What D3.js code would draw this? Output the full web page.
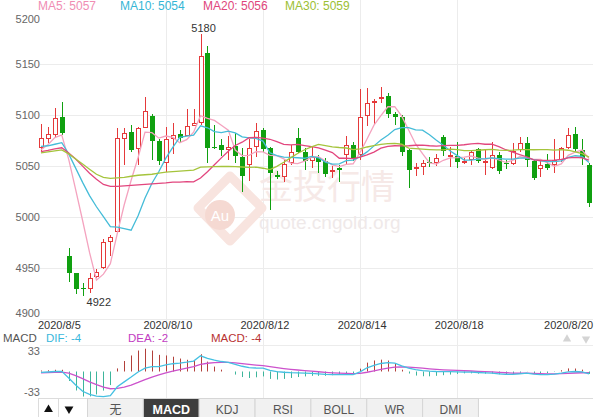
<!DOCTYPE html>
<html><head><meta charset="utf-8">
<script src="https://cdn.jsdelivr.net/npm/d3@7"></script>
<style>
html,body{margin:0;padding:0;background:#fff;}
svg{display:block;font-family:"Liberation Sans",Arial,sans-serif;}
</style></head><body>
<svg id="c" width="598" height="417"></svg>
<script>
// ---------------- data ----------------
const opens = [5067.5,5076.5,5080.6,5098,4961.6,4944.6,4930.5,4928.8,4940.6,4949.5,
4975,4985,5076.3,5083.8,5066.5,5087.2,5099.6,5074.7,5052.8,5076.3,
5081.4,5080,5089.8,5092,5161,5068.5,5070.5,5066,5069.5,5059,
5051,5069,5085.8,5067.5,5041.3,5039.6,5052.8,5078,5063.5,5055,
5058.3,5055,5044,5048.5,5061,5070.8,5060.5,5098.8,5112.5,5116.5,
5118.7,5100.8,5098.6,5065.6,5047,5049.4,5054.5,5052.8,5079,5059,
5059.5,5054.7,5056,5066.8,5054,5048.6,5061,5053,5052,5066,
5073,5055,5047,5052,5051,5056,5068,5081.4,5066,5051];
const highs = [5091,5088.5,5107,5113.4,4969.2,4945,4935.5,4945.2,4948.5,4978,
4982.2,5087,5087,5090,5088,5118.4,5101,5077,5088.6,5092.5,
5085.5,5106,5106,5180,5168,5090,5077,5080,5083,5067.5,
5077,5092.7,5087,5069,5045,5056,5070.8,5087,5067.5,5069,
5061,5057.7,5050.5,5051,5080,5074,5125.5,5126.5,5116,5127.5,
5122,5103,5100,5067,5052.8,5056,5059.3,5061.6,5081,5069,
5074,5058,5066,5068,5066,5073.5,5063.6,5056,5072.4,5079,
5079,5056,5055,5061.6,5077,5069,5087.6,5088,5077,5053];
const lows = [5065,5073,5079,5080.6,4936.3,4924.2,4922,4925.6,4939.7,4949,
4961.6,4984,5051,5064,5051,5087,5056,5051,5044.5,5061.6,
5073.5,5080,5089,5090,5053,5066.5,5060,5056,5053,5025,
5035.3,5059,5064,5007,5037,5034.6,5051,5062.5,5046,5048,
5043,5039,5038,5034.6,5051,5055,5056,5089.5,5090,5112,
5097,5090,5060,5028,5040,5041,5049.4,5050.4,5060,5049,
5048.5,5052,5050.6,5052.8,5041,5047,5042,5047,5051,5064,
5048.7,5036.7,5039,5046,5043,5054.5,5067,5063.6,5051,5010];
const closes = [5077.3,5081.4,5097,5082.3,4945.2,4928.8,4929,4940.3,4945.5,4975,
4980,5077.3,5082.3,5065.8,5087,5104.5,5074.7,5055.3,5076.3,5080.6,
5078.1,5089.5,5092,5158,5067.5,5067.5,5065.6,5068.5,5060,5040.3,
5068,5084.5,5066.5,5043,5039.6,5051.8,5064,5064,5055,5059.3,
5054.3,5042,5046,5046,5070.8,5056.7,5098,5111.8,5114,5117.5,
5100.8,5098.6,5064.3,5046,5049.4,5052.8,5052.8,5058.3,5065,5061,
5054.5,5055.3,5063.5,5055,5055,5061,5045.5,5052,5065,5072.4,
5056,5038,5051,5048,5056,5067.5,5080.6,5067,5058,5014];

const ma5 = [5066,5071,5078,5080.6,5056.6,5026.9,4996.5,4965.1,4937.8,4943.7,
4954,4983.6,5012,5036.1,5058.5,5083.4,5082.9,5077.5,5079.6,5078.3,
5073,5076,5083.3,5099.6,5097,5094.9,5090.1,5085.4,5065.8,5060.4,
5060.5,5064.3,5063.9,5060.5,5060.3,5057.1,5053,5052.5,5054.9,5058.8,
5059.3,5054.9,5051.3,5049.5,5051.8,5052.3,5063.5,5076.7,5090.3,5099.6,
5108.4,5108.5,5099.1,5085.5,5071.8,5062.2,5053.1,5051.9,5055.7,5058,
5058.3,5058.8,5059.9,5057.9,5056.7,5058,5056,5053.7,5055.7,5059.2,
5058.2,5056.7,5056.5,5053.1,5049.8,5052.1,5060.6,5063.8,5065.8,5057.4];
const ma10 = [5069.4,5070,5071.5,5073,5062,5048,5034,5021,5010,5000.2,
4990.5,4990,4988.6,4986.9,5001.1,5018.7,5033.2,5044.7,5057.8,5068.4,
5078.2,5079.4,5080.4,5089.6,5087.7,5084,5083,5084.4,5082.7,5078.7,
5077.7,5077.2,5074.6,5063.1,5060.4,5058.8,5058.6,5058.2,5057.7,5059.6,
5058.2,5054,5051.9,5052.2,5055.3,5055.8,5059.2,5064,5069.9,5075.7,
5080.4,5086,5087.9,5087.9,5085.7,5085.3,5080.8,5075.5,5070.6,5064.9,
5060.3,5055.9,5055.9,5056.8,5057.3,5058.1,5057.4,5056.8,5056.8,5057.9,
5058.1,5056.3,5055.1,5054.4,5054.5,5055.1,5058.7,5060.2,5059.5,5053.6];
const ma20 = [5064.2,5065.5,5067,5068,5063,5057,5050,5043,5037,5032,
5030,5030,5030.5,5031,5031.5,5032,5032.5,5033,5033.5,5034.3,
5034.3,5034.7,5034.5,5038.3,5044.4,5051.3,5058.1,5064.6,5070.3,5073.5,
5077.9,5078.3,5077.5,5076.4,5074,5071.4,5070.8,5071.3,5070.2,5069.1,
5067.9,5065.6,5063.3,5057.7,5057.8,5057.3,5058.9,5061.1,5063.8,5067.6,
5069.3,5070,5069.9,5070,5070.5,5070.6,5070,5069.7,5070.2,5070.3,
5070.3,5071,5071.9,5072.3,5071.5,5071.7,5069.1,5066.1,5063.7,5061.4,
5059.2,5056.1,5055.5,5055.6,5055.9,5056.6,5058,5058.5,5058.1,5055.8];
const ma30 = [5063,5064,5065,5066,5062,5057,5052,5047,5042,5039,
5038,5038.5,5039,5040,5041,5041.5,5042,5043,5044,5044.5,
5045,5045.5,5046,5049,5049.3,5049.5,5049.6,5049.8,5049.5,5049.1,
5048.8,5048.9,5047.9,5046.6,5049.7,5053.8,5058.3,5062.4,5066.1,5068.9,
5071.4,5070.2,5069,5068.3,5067.8,5066.2,5067,5068.8,5070.1,5071.3,
5072.1,5072.4,5071.5,5067.7,5067.1,5066.6,5066.2,5065.9,5066,5066.7,
5066.3,5065.3,5065.2,5065.6,5066.1,5066.4,5065.8,5065.4,5065.7,5066.2,
5066.2,5066.1,5066.3,5066.3,5065.8,5066.2,5065.6,5064.1,5062.3,5058.8];

const dif = [-1.5,-0.8,0,0.3,-10.5,-22,-32,-37,-40,-40.8,
-39,-24.9,-16.8,-9,-0.8,5.3,8,7.9,10.6,12.6,
13.7,15.1,16.9,25.4,21.4,18.4,16.2,14.7,11.6,8.5,
6.3,5.7,5.4,1.9,-0.2,-1.2,-1.8,-2.1,-2.6,-3,
-3.9,-4.8,-5.1,-5.2,-5.2,-5.1,-0.7,6,10,13,
14.5,13.5,9,5.5,3,1.5,0.5,0,-0.2,-0.3,
-0.5,-1,-1,-1.6,-2.1,-2.6,-3.7,-4.7,-4.7,-3.7,
-2.6,-4.2,-5.2,-5.2,-4.2,-2.6,-0.5,0,-0.5,-4];
const dea = [-2.3,-1.8,-1.4,-1.1,-2.8,-6.6,-11.7,-16.8,-21.4,-25.3,
-28,-27.4,-25.3,-22,-17.8,-13.2,-9,-5.6,-2.4,0.6,
3.2,5.6,7.9,11.4,13.4,14.4,14.7,14.7,14.1,12.9,
11.6,10.4,9.4,7.9,6.3,4.8,3.5,2.4,1.4,0.5,
-0.4,-1.3,-2.1,-2.7,-3.2,-3.6,-3,-1.2,1,3.4,
5.6,7.2,7.6,7.2,6.3,5.4,4.4,3.5,2.8,2.2,
1.7,1.2,0.8,0.3,-0.2,-0.7,-1.3,-2,-2.5,-2.8,
-2.7,-3,-3.5,-3.8,-3.9,-3.6,-3,-2.4,-2,-2];
const macdHist = [1.6,2,2.8,2.8,-15.4,-30.8,-40.6,-40.4,-37.2,-31,
-22,5,17,26,34,37,34,27,26,24,
21,19,18,28,16,8,3,0,-5,-9,
-10.5,-9.4,-8,-12,-13,-12,-10.5,-9,-8,-7,
-7,-7,-6,-5,-4,-3,4.6,14.4,17.9,19.2,
17.8,12.6,2.9,-3.3,-6.6,-7.7,-7.8,-7,-6,-5,
-4,-3,-3,-3.5,-3.5,-3.5,-4.5,-5,-4.4,-2,
0.2,-2.4,-3.5,-2.8,-0.6,2,5,4.8,3,-4];

const priceTicks = [5200,5150,5100,5050,5000,4950,4900];
const macdTicks = [33,-33];
const dateIdx = [0,18,32,46,60,79];
const dateText = ["2020/8/5","2020/8/10","2020/8/12","2020/8/14","2020/8/18","2020/8/20"];
const gridIdx = [18,32,46,60];
const maNames = ["MA5","MA10","MA20","MA30"];
const tabs = ["无","MACD","KDJ","RSI","BOLL","WR","DMI"];
const activeTab = "MACD";

// ---------------- styles ----------------
const RED = "#e5393a", GREEN = "#10a010";
const maColors = ["#f4a3bf","#45bcd8","#e2467e","#a5c43c"];
const maTextColors = ["#f08db3","#35b6d6","#e0467c","#9cc034"];
const FONT = '"Liberation Sans",Arial,sans-serif';
const fmt = v => String(Math.round(v));

const svg = d3.select("#c");
const N = closes.length;
const idx = d3.range(N);
const x = d3.scaleBand().domain(idx).range([37.5, 592.5]);
const cx = i => x(i) + x.bandwidth() / 2;
const px = i => Math.round(cx(i));
const y = d3.scaleLinear().domain([4900, 5200]).range([318.6, 13.6]);
const ym = d3.scaleLinear().domain([-43, 43]).range([398, 345]);
const L = 40, R = 593;

// ---------------- grid ----------------
const grid = svg.append("g").attr("stroke", "#ececec").attr("stroke-width", 1);
grid.selectAll("line.h").data(priceTicks.filter(t => t < 5200)).join("line")
  .attr("x1", L).attr("x2", R)
  .attr("y1", d => Math.round(y(d)) + 0.5).attr("y2", d => Math.round(y(d)) + 0.5);
grid.selectAll("line.v").data(gridIdx).join("line")
  .attr("x1", i => px(i) + 0.5).attr("x2", i => px(i) + 0.5)
  .attr("y1", 0).attr("y2", 398);
grid.append("line").attr("x1", L).attr("x2", R)
  .attr("y1", Math.round(ym(43)) + 0.5).attr("y2", Math.round(ym(43)) + 0.5);

// ---------------- watermark ----------------
const wm = svg.append("g");
wm.append("path").attr("d", "M230,176 L262,208 L230,241 L198,208 Z")
  .attr("fill", "none").attr("stroke", "#f8e4df").attr("stroke-width", 9).attr("stroke-linejoin", "round");
wm.append("circle").attr("cx", 220).attr("cy", 215).attr("r", 15).attr("fill", "#f5d9d2");
wm.append("text").attr("x", 220).attr("y", 221).attr("text-anchor", "middle")
  .attr("font-size", 15).attr("font-family", FONT).attr("fill", "#fff").text("Au");
wm.append("text").attr("x", 259).attr("y", 199).attr("font-size", 34)
  .attr("font-family", '"Noto Sans CJK SC",sans-serif').attr("fill", "#f6e9e7").text("金投行情");
wm.append("text").attr("x", 259).attr("y", 229).attr("font-size", 19)
  .attr("font-family", FONT).attr("fill", "#efe9e9").text("quote.cngold.org");

// ---------------- price axis ----------------
const ay = svg.append("g").attr("transform", `translate(${L},0)`)
  .call(d3.axisLeft(y).tickValues(priceTicks).tickFormat(fmt).tickSize(0).tickPadding(0));
ay.select(".domain").remove();
ay.attr("font-size", 11).attr("font-family", FONT);
ay.selectAll("text").attr("fill", "#666")
  .attr("dy", d => d === 5200 ? "0.82em" : d === 4900 ? "-0.18em" : "0.32em");

// ---------------- date labels ----------------
svg.append("g").selectAll("text").data(dateIdx).join("text")
  .attr("x", (d, k) => k === 0 ? cx(d) - 3 : k === dateIdx.length - 1 ? R : cx(d) + 2)
  .attr("y", 329)
  .attr("text-anchor", (d, k) => k === 0 ? "start" : k === dateIdx.length - 1 ? "end" : "middle")
  .attr("font-size", 11).attr("font-family", FONT).attr("fill", "#333")
  .text((d, k) => dateText[k]);

// ---------------- candles ----------------
const cg = svg.append("g");
idx.forEach(i => {
  const up = closes[i] >= opens[i];
  const col = up ? RED : GREEN;
  const p = px(i);
  cg.append("line").attr("x1", p + 0.5).attr("x2", p + 0.5)
    .attr("y1", Math.round(y(highs[i]))).attr("y2", Math.round(y(lows[i])))
    .attr("stroke", col).attr("stroke-width", 1);
  const top = Math.round(y(Math.max(opens[i], closes[i])));
  const bot = Math.round(y(Math.min(opens[i], closes[i])));
  const h = Math.max(1, bot - top);
  if (up) {
    cg.append("rect").attr("x", p - 1.5).attr("y", top + 0.5).attr("width", 4).attr("height", Math.max(1, h - 1))
      .attr("fill", "#fff").attr("stroke", col).attr("stroke-width", 1);
  } else {
    cg.append("rect").attr("x", p - 2).attr("y", top).attr("width", 5).attr("height", h)
      .attr("fill", col);
  }
});

// ---------------- moving averages ----------------
const maSeries = [ma5, ma10, ma20, ma30];
const lineP = d3.line().x((d, i) => cx(i)).y(d => y(d));
maSeries.forEach((s, k) => {
  svg.append("path").attr("d", lineP(s)).attr("fill", "none")
    .attr("stroke", maColors[k]).attr("stroke-width", 1.3);
});

// high / low labels
const hiI = d3.maxIndex(highs), loI = d3.minIndex(lows);
svg.append("text").attr("x", cx(hiI) + 3).attr("y", y(highs[hiI]) - 2).attr("text-anchor", "middle")
  .attr("font-size", 11).attr("font-family", FONT).attr("fill", "#333").text(fmt(highs[hiI]));
svg.append("text").attr("x", cx(loI) + 4).attr("y", y(lows[loI]) + 10).attr("text-anchor", "start")
  .attr("font-size", 11).attr("font-family", FONT).attr("fill", "#333").text(fmt(lows[loI]));

// MA legend
const maX = [38, 120, 203, 285];
const maLast = maSeries.map(s => fmt(s[s.length - 1]));
svg.append("g").selectAll("text").data(maNames).join("text")
  .attr("x", (d, k) => maX[k]).attr("y", 10)
  .attr("font-size", 12).attr("font-family", FONT)
  .attr("fill", (d, k) => maTextColors[k])
  .text((d, k) => `${d}: ${maLast[k]}`);

// ---------------- MACD panel ----------------
const mg = svg.append("g");
mg.selectAll("line").data(macdHist).join("line")
  .attr("x1", (d, i) => px(i) + 0.5).attr("x2", (d, i) => px(i) + 0.5)
  .attr("y1", ym(0)).attr("y2", d => ym(d))
  .attr("stroke", d => d >= 0 ? "#b2403a" : "#3db59b").attr("stroke-width", 1);
svg.append("path").attr("d", d3.line().x((d, i) => cx(i)).y(d => ym(d))(dea))
  .attr("fill", "none").attr("stroke", "#cc52cc").attr("stroke-width", 1.3);
svg.append("path").attr("d", d3.line().x((d, i) => cx(i)).y(d => ym(d))(dif))
  .attr("fill", "none").attr("stroke", "#45c0e2").attr("stroke-width", 1.3);

svg.append("g").selectAll("text").data(macdTicks).join("text")
  .attr("x", L).attr("y", d => ym(d) + 4).attr("text-anchor", "end")
  .attr("font-size", 11).attr("font-family", FONT).attr("fill", "#666").text(d => fmt(d));

const legY = 342;
const leg = [
  {t: "MACD", x: 3, c: "#555"},
  {t: `DIF: ${fmt(dif[N - 1])}`, x: 46, c: "#3ab8dc"},
  {t: `DEA: ${fmt(dea[N - 1])}`, x: 128, c: "#c23cc2"},
  {t: `MACD: ${fmt(macdHist[N - 1])}`, x: 211, c: "#b83232"}
];
svg.append("g").selectAll("text").data(leg).join("text")
  .attr("x", d => d.x).attr("y", legY).attr("font-size", 11.5).attr("font-family", FONT)
  .attr("fill", d => d.c).text(d => d.t);

// small arrows top right of MACD panel
svg.append("path").attr("d", d3.symbol(d3.symbolTriangle, 30)())
  .attr("transform", "translate(567,339)").attr("fill", "#d4d4d4");
svg.append("path").attr("d", d3.symbol(d3.symbolTriangle, 30)())
  .attr("transform", "translate(586,339) rotate(180)").attr("fill", "#d4d4d4");

// ---------------- bottom tabs ----------------
const tb = svg.append("g");
tb.append("line").attr("x1", 38).attr("x2", R).attr("y1", 398.5).attr("y2", 398.5).attr("stroke", "#dcdcdc");
tb.append("rect").attr("x", 38.5).attr("y", 398.5).attr("width", 20).attr("height", 20)
  .attr("fill", "#fff").attr("stroke", "#dcdcdc");
tb.append("rect").attr("x", 58.5).attr("y", 398.5).attr("width", 29).attr("height", 20)
  .attr("fill", "#fff").attr("stroke", "#dcdcdc");
tb.append("path").attr("d", d3.symbol(d3.symbolTriangle, 34)())
  .attr("transform", "translate(48.5,409.5)").attr("fill", "#111");
tb.append("path").attr("d", d3.symbol(d3.symbolTriangle, 34)())
  .attr("transform", "translate(69,409) rotate(180)").attr("fill", "#111");
const tabX0 = 87.5, tabW = 55.85;
tabs.forEach((t, k) => {
  const on = t === activeTab;
  tb.append("rect").attr("x", tabX0 + k * tabW).attr("y", 398.5).attr("width", tabW).attr("height", 20)
    .attr("fill", on ? "#3d3d3d" : "#f1f1f1").attr("stroke", "#d6d6d6");
  tb.append("text").attr("x", tabX0 + k * tabW + tabW / 2).attr("y", 413.5).attr("text-anchor", "middle")
    .attr("font-size", on ? 12.5 : 12).attr("font-weight", on ? "bold" : "normal")
    .attr("font-family", t === "无" ? '"Noto Sans CJK SC",sans-serif' : FONT)
    .attr("fill", on ? "#fff" : "#555").text(t);
});
</script>
</body></html>
